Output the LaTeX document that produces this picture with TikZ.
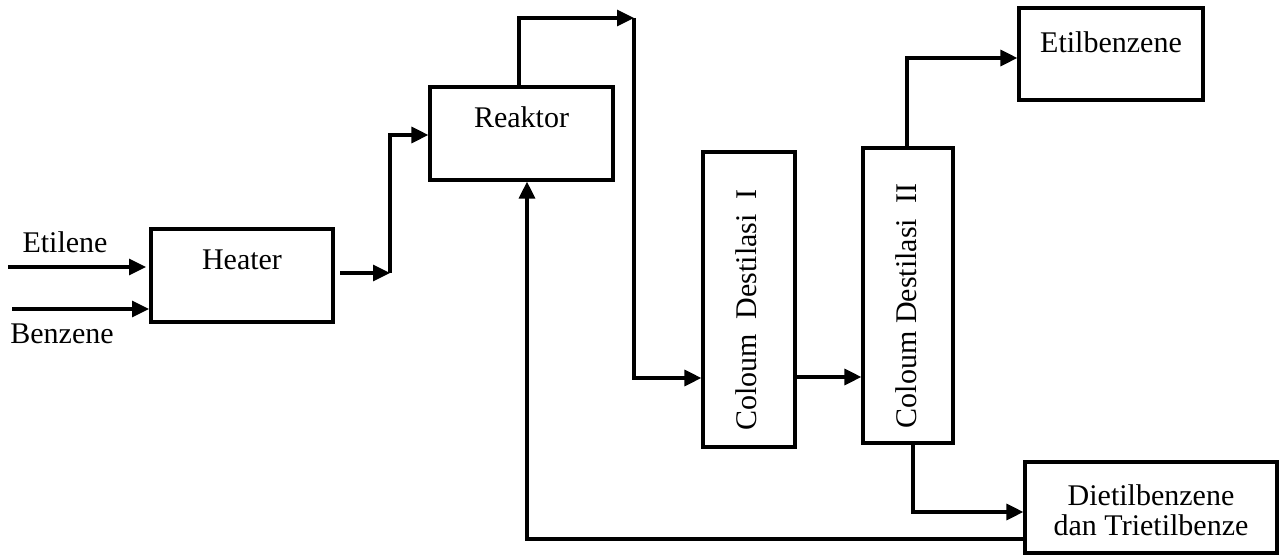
\documentclass[tikz,border=0pt]{standalone}
\usepackage{fontspec}
\setmainfont{Liberation Serif}
\usetikzlibrary{arrows.meta}
\tikzset{
  box/.style={draw=black, line width=1.6pt, rectangle, inner sep=0pt, fill=white},
  txt/.style={font=\fontsize{15}{15}\selectfont, inner sep=0pt, align=center},
  flow/.style={line width=1.6pt, -{Triangle[length=8.5pt,width=8pt]}},
  line/.style={line width=1.6pt}
}
\begin{document}
\begin{tikzpicture}[x=0.5pt,y=-0.5pt]
\useasboundingbox (0,0) rectangle (1281,555);
% boxes
\node[box, minimum width=91pt, minimum height=46.5pt] (heater) at (242,275.5) {};
\node[txt] (heaterT) at (242,260) {Heater};
\node[box, minimum width=91.5pt, minimum height=46.5pt] (reaktor) at (521.5,133.5) {};
\node[txt] (reaktorT) at (521.5,117) {Reaktor};
\node[box, minimum width=46pt, minimum height=147.5pt] (col1) at (749,299.5) {};
\node[txt, rotate=90] (col1T) at (746,310) {Coloum~~Destilasi~~I};
\node[box, minimum width=45pt, minimum height=147.5pt] (col2) at (908,295.5) {};
\node[txt, rotate=90] (col2T) at (906,306) {Coloum Destilasi~~II};
\node[box, minimum width=92pt, minimum height=46pt] (etil) at (1111,54) {};
\node[txt] (etilT) at (1111,42) {Etilbenzene};
\node[box, minimum width=126pt, minimum height=45.5pt] (dietil) at (1151,507.5) {};
\node[txt] (dietilT) at (1151,510) {Dietilbenzene\\dan Trietilbenze};
% feed labels
\node[txt] (etilene) at (65,242) {Etilene};
\node[txt] (benzene) at (62,334) {Benzene};
% coordinates
\coordinate (e0) at (8,267);
\coordinate (b0) at (12,309);
\coordinate (h1) at (340,273);
\coordinate (v1) at (390,273);
\coordinate (r0) at (519,87);
\coordinate (t1) at (634,18);
\coordinate (c2a) at (907,148);
\coordinate (c2b) at (913,443);
\coordinate (rc) at (527,539);
% connectors
\draw[flow] (e0) -- (146,267);
\draw[flow] (b0) -- (149,309);
\draw[flow] (h1) -- (v1);
\draw[flow] (v1) |- (reaktor.west |- 0,135);
\draw[flow] (r0) |- (t1);
\draw[flow] (t1) |- (col1.west |- 0,378);
\draw[flow] (col1.east |- 0,377) -- (col2.west |- 0,377);
\draw[flow] (c2a) |- (etil.west |- 0,58);
\draw[flow] (c2b) |- (dietil.west |- 0,512);
\draw[flow] (dietil.west |- rc) -- (rc) -- (rc |- reaktor.south);
\end{tikzpicture}
\end{document}
